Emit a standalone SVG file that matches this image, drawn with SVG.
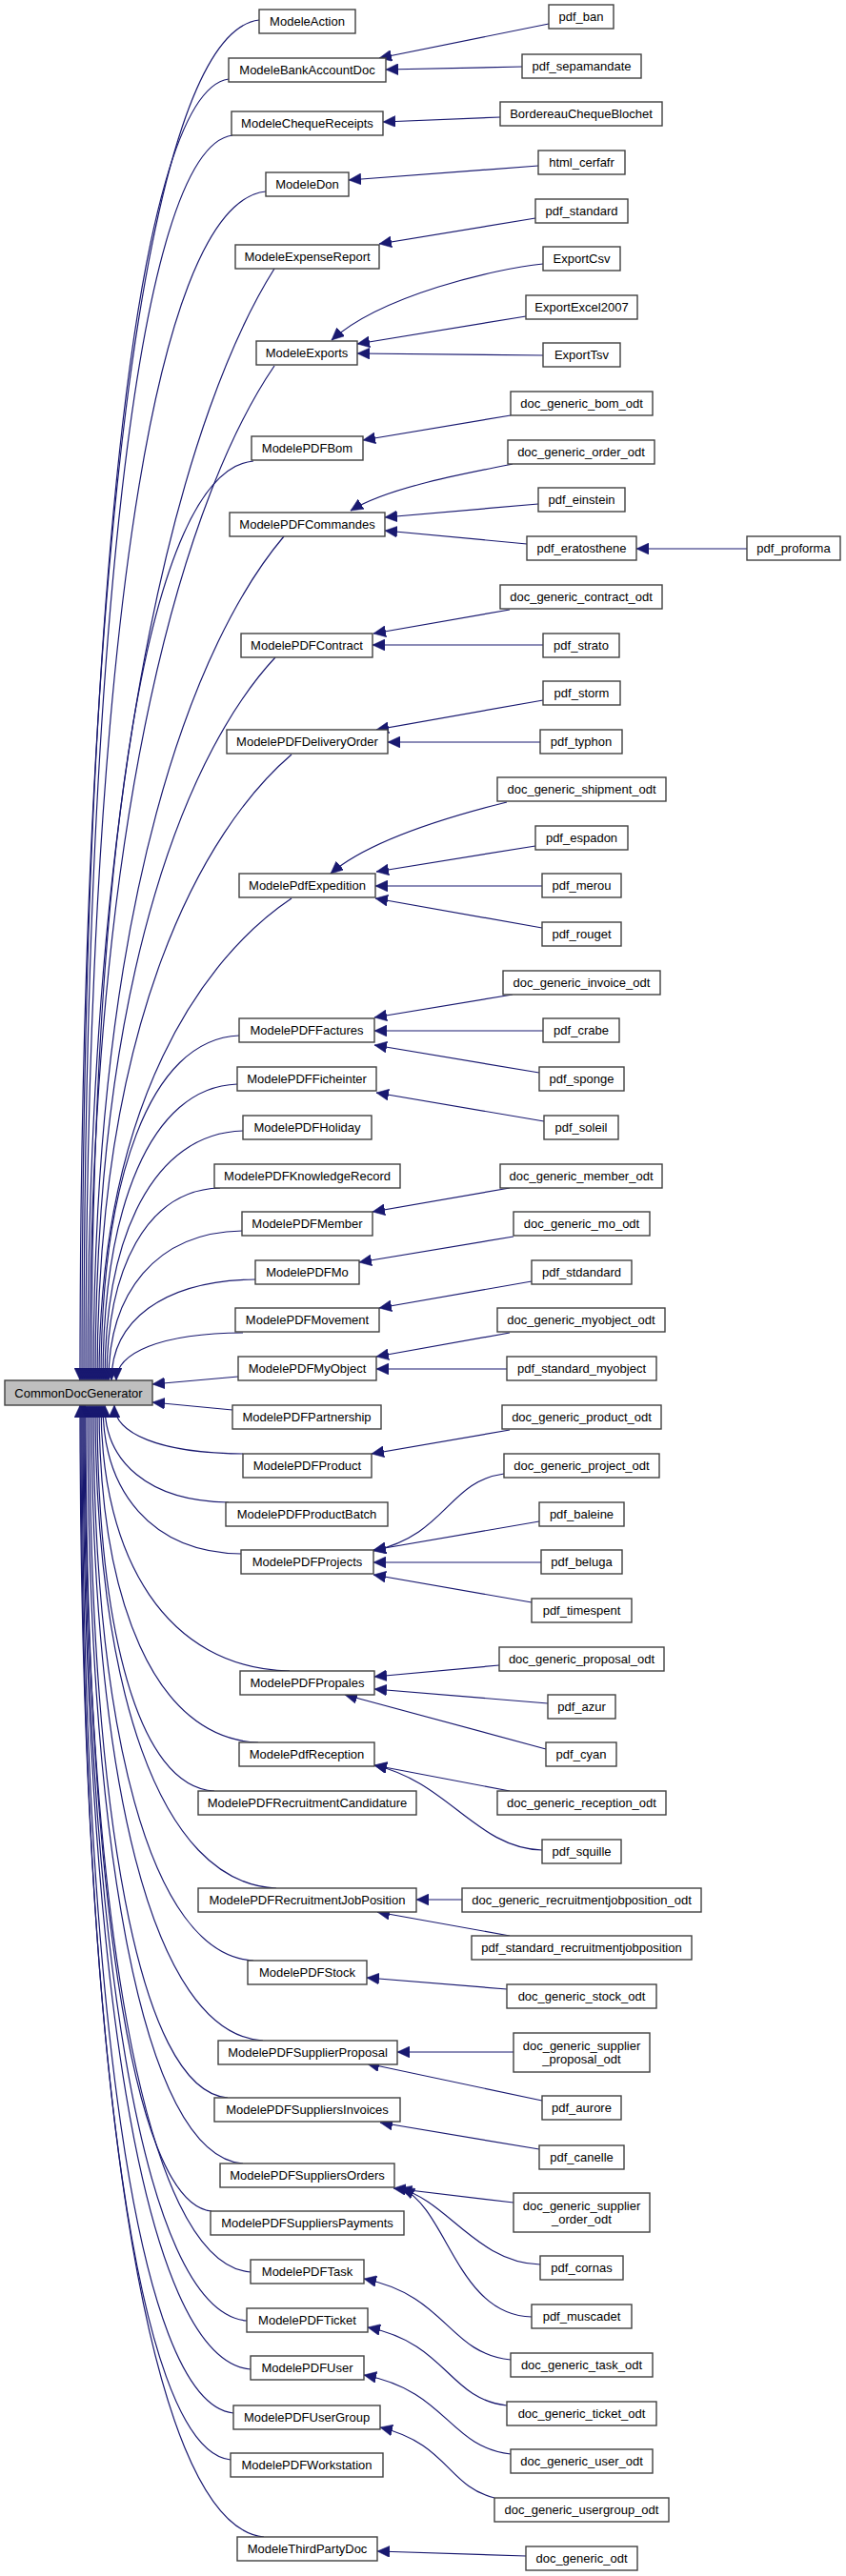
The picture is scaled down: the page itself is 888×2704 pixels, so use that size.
<svg xmlns="http://www.w3.org/2000/svg" width="888" height="2704" viewBox="0 0 888 2704">
<style>
.node rect{fill:#fff;stroke:#404040;stroke-width:1.4}
#n_CommonDocGenerator rect{fill:#bfbfbf}
.node text{font-family:"Liberation Sans",Arial,sans-serif;font-size:13px;text-anchor:middle;fill:#000}
.edges path{fill:none;stroke:#191970;stroke-width:1.2;marker-end:url(#arr)}
</style>
<defs>
<marker id="arr" markerUnits="userSpaceOnUse" markerWidth="14" markerHeight="12" refX="13" refY="6" orient="auto"><path d="M0,0 L13,6 L0,12 z" fill="#191970" stroke="#191970" stroke-width="0.5"/></marker>
</defs>
<rect width="888" height="2704" fill="#fff"/>
<g class="edges" id="connectors">
<path d="M272,21 C149.8,35.3 84,620.8 84,1449"/>
<path d="M240,83 C139.9,96.7 86,656.7 86,1449"/>
<path d="M244,142 C142.6,155.1 88,690.9 88,1449"/>
<path d="M279,201 C156.2,213.5 90,725.2 90,1449"/>
<path d="M288,282 C199.8,422 92,772.1 92,1449"/>
<path d="M288,384 C200.7,511.8 94,831.3 94,1449"/>
<path d="M266,484 C155.5,493.7 96,889.3 96,1449"/>
<path d="M298,563 C208,669.3 98,935.1 98,1449"/>
<path d="M289,690 C204,781 100,1008.8 100,1449"/>
<path d="M306,792 C214.2,870.8 102,1067.9 102,1449"/>
<path d="M306,943 C215.1,1003.7 104,1155.5 104,1449"/>
<path d="M251,1087 C156.8,1090.6 106,1239 106,1449"/>
<path d="M249,1138 C157.4,1141.1 108,1268.6 108,1449"/>
<path d="M255,1187 C160.8,1189.6 110,1297 110,1449"/>
<path d="M231,1247 C153.7,1249 112,1331.8 112,1449"/>
<path d="M254,1292 C163,1293.6 114,1357.9 114,1449"/>
<path d="M268,1343 C169.9,1344.1 117,1387.5 117,1449"/>
<path d="M255,1399 C168.6,1399.5 122,1420 122,1449"/>
<path d="M250,1445 L160,1453"/>
<path d="M244,1480 L160,1472"/>
<path d="M255,1526 C167.3,1525.5 120,1504.6 120,1475"/>
<path d="M240,1577 C155.5,1576 110,1534.2 110,1475"/>
<path d="M253,1631 C158.8,1629.4 108,1565.5 108,1475"/>
<path d="M304,1754 C175.3,1751.2 106,1636.8 106,1475"/>
<path d="M271,1829 C162.5,1825.5 104,1680.3 104,1475"/>
<path d="M225,1880 C145,1876 102,1709.9 102,1475"/>
<path d="M290,1982 C166.5,1976.9 100,1769.1 100,1475"/>
<path d="M266,2058 C156.8,2052.2 98,1813.1 98,1475"/>
<path d="M276,2142 C159,2135.3 96,1861.9 96,1475"/>
<path d="M239,2202 C144.8,2194.7 94,1896.7 94,1475"/>
<path d="M255,2271 C149.1,2263 92,1936.7 92,1475"/>
<path d="M222,2321 C136.2,2312.5 90,1965.7 90,1475"/>
<path d="M263,2385 C149.9,2375.9 89,2002.8 89,1475"/>
<path d="M259,2436 C147.9,2426.4 88,2032.4 88,1475"/>
<path d="M263,2487 C148.6,2476.9 87,2062 87,1475"/>
<path d="M245,2533 C141.7,2522.4 86,2088.6 86,1475"/>
<path d="M242,2582 C140,2570.9 85,2117.1 85,1475"/>
<path d="M277,2663 C151.5,2651.1 84,2164 84,1475"/>
<path d="M576,25 L398,61"/>
<path d="M548,70 L405,73"/>
<path d="M525,123 L402,128"/>
<path d="M565,174 L366,189"/>
<path d="M562,229 L398,256"/>
<path d="M570,277 C520,282 400,310 348,357"/>
<path d="M552,332 L375,361"/>
<path d="M570,373 L375,371"/>
<path d="M536,436 L381,462"/>
<path d="M538,487 C500,495 410,510 368,536"/>
<path d="M565,529 L404,543"/>
<path d="M553,571 L404,557"/>
<path d="M784,576 L668,576"/>
<path d="M535,640 L392,665"/>
<path d="M570,677 L391,677"/>
<path d="M570,735 L395,766"/>
<path d="M567,779 L407,779"/>
<path d="M532,842 C480,855 390,880 347,917"/>
<path d="M562,888 L395,915"/>
<path d="M569,930 L394,930"/>
<path d="M569,974 L394,943"/>
<path d="M538,1044 L393,1068"/>
<path d="M570,1082 L393,1082"/>
<path d="M566,1126 L393,1097"/>
<path d="M571,1177 L395,1147"/>
<path d="M535,1247 L391,1272"/>
<path d="M539,1298 L377,1325"/>
<path d="M558,1345 L398,1373"/>
<path d="M535,1399 L395,1424"/>
<path d="M532,1437 L395,1437"/>
<path d="M535,1501 L390,1526"/>
<path d="M529,1547 C470,1555 470,1610 392,1628"/>
<path d="M566,1597 L392,1627"/>
<path d="M568,1640 L392,1640"/>
<path d="M558,1682 L392,1653"/>
<path d="M524,1748 L393,1760"/>
<path d="M575,1788 L393,1773"/>
<path d="M573,1836 L362,1779"/>
<path d="M535,1880 L393,1853"/>
<path d="M569,1942 C500,1940 470,1870 393,1853"/>
<path d="M485,1994 L437,1994"/>
<path d="M535,2032 L396,2007"/>
<path d="M532,2088 L385,2076"/>
<path d="M539,2154 L417,2154"/>
<path d="M569,2205 L385,2166"/>
<path d="M566,2256 L399,2228"/>
<path d="M539,2312 L413,2297"/>
<path d="M567,2377 C500,2375 470,2310 419,2297"/>
<path d="M558,2432 C480,2430 470,2320 422,2297"/>
<path d="M536,2477 C470,2470 470,2410 382,2392"/>
<path d="M532,2525 C470,2518 470,2460 386,2443"/>
<path d="M536,2576 C470,2568 470,2510 382,2493"/>
<path d="M519,2622 C470,2610 470,2565 399,2548"/>
<path d="M552,2683 L396,2678"/>
</g>
<g id="n_CommonDocGenerator" class="node"><rect x="5" y="1449" width="155" height="26"/><text x="82.5" y="1466.5">CommonDocGenerator</text></g>
<g id="n_ModeleAction" class="node"><rect x="272" y="10" width="101" height="25"/><text x="322.5" y="27">ModeleAction</text></g>
<g id="n_ModeleBankAccountDoc" class="node"><rect x="240" y="61" width="165" height="25"/><text x="322.5" y="78">ModeleBankAccountDoc</text></g>
<g id="n_ModeleChequeReceipts" class="node"><rect x="243" y="117" width="159" height="25"/><text x="322.5" y="134">ModeleChequeReceipts</text></g>
<g id="n_ModeleDon" class="node"><rect x="279" y="181" width="87" height="25"/><text x="322.5" y="198">ModeleDon</text></g>
<g id="n_ModeleExpenseReport" class="node"><rect x="247" y="257" width="151" height="25"/><text x="322.5" y="274">ModeleExpenseReport</text></g>
<g id="n_ModeleExports" class="node"><rect x="269" y="358" width="106" height="25"/><text x="322" y="375">ModeleExports</text></g>
<g id="n_ModelePDFBom" class="node"><rect x="264" y="458" width="117" height="25"/><text x="322.5" y="475">ModelePDFBom</text></g>
<g id="n_ModelePDFCommandes" class="node"><rect x="241" y="538" width="163" height="25"/><text x="322.5" y="555">ModelePDFCommandes</text></g>
<g id="n_ModelePDFContract" class="node"><rect x="253" y="665" width="138" height="25"/><text x="322" y="682">ModelePDFContract</text></g>
<g id="n_ModelePDFDeliveryOrder" class="node"><rect x="238" y="766" width="169" height="25"/><text x="322.5" y="783">ModelePDFDeliveryOrder</text></g>
<g id="n_ModelePdfExpedition" class="node"><rect x="251" y="917" width="143" height="25"/><text x="322.5" y="934">ModelePdfExpedition</text></g>
<g id="n_ModelePDFFactures" class="node"><rect x="251" y="1069" width="142" height="25"/><text x="322" y="1086">ModelePDFFactures</text></g>
<g id="n_ModelePDFFicheinter" class="node"><rect x="249" y="1120" width="146" height="25"/><text x="322" y="1137">ModelePDFFicheinter</text></g>
<g id="n_ModelePDFHoliday" class="node"><rect x="255" y="1171" width="135" height="25"/><text x="322.5" y="1188">ModelePDFHoliday</text></g>
<g id="n_ModelePDFKnowledgeRecord" class="node"><rect x="225" y="1222" width="195" height="25"/><text x="322.5" y="1239">ModelePDFKnowledgeRecord</text></g>
<g id="n_ModelePDFMember" class="node"><rect x="254" y="1272" width="137" height="25"/><text x="322.5" y="1289">ModelePDFMember</text></g>
<g id="n_ModelePDFMo" class="node"><rect x="268" y="1323" width="109" height="25"/><text x="322.5" y="1340">ModelePDFMo</text></g>
<g id="n_ModelePDFMovement" class="node"><rect x="247" y="1373" width="151" height="25"/><text x="322.5" y="1390">ModelePDFMovement</text></g>
<g id="n_ModelePDFMyObject" class="node"><rect x="250" y="1424" width="145" height="25"/><text x="322.5" y="1441">ModelePDFMyObject</text></g>
<g id="n_ModelePDFPartnership" class="node"><rect x="244" y="1475" width="156" height="25"/><text x="322" y="1492">ModelePDFPartnership</text></g>
<g id="n_ModelePDFProduct" class="node"><rect x="255" y="1526" width="135" height="25"/><text x="322.5" y="1543">ModelePDFProduct</text></g>
<g id="n_ModelePDFProductBatch" class="node"><rect x="237" y="1577" width="170" height="25"/><text x="322" y="1594">ModelePDFProductBatch</text></g>
<g id="n_ModelePDFProjects" class="node"><rect x="253" y="1627" width="139" height="25"/><text x="322.5" y="1644">ModelePDFProjects</text></g>
<g id="n_ModelePDFPropales" class="node"><rect x="252" y="1754" width="141" height="25"/><text x="322.5" y="1771">ModelePDFPropales</text></g>
<g id="n_ModelePdfReception" class="node"><rect x="251" y="1829" width="142" height="25"/><text x="322" y="1846">ModelePdfReception</text></g>
<g id="n_ModelePDFRecruitmentCandidature" class="node"><rect x="208" y="1880" width="229" height="25"/><text x="322.5" y="1897">ModelePDFRecruitmentCandidature</text></g>
<g id="n_ModelePDFRecruitmentJobPosition" class="node"><rect x="208" y="1982" width="229" height="25"/><text x="322.5" y="1999">ModelePDFRecruitmentJobPosition</text></g>
<g id="n_ModelePDFStock" class="node"><rect x="260" y="2058" width="125" height="25"/><text x="322.5" y="2075">ModelePDFStock</text></g>
<g id="n_ModelePDFSupplierProposal" class="node"><rect x="229" y="2142" width="188" height="25"/><text x="323" y="2159">ModelePDFSupplierProposal</text></g>
<g id="n_ModelePDFSuppliersInvoices" class="node"><rect x="225" y="2202" width="195" height="25"/><text x="322.5" y="2219">ModelePDFSuppliersInvoices</text></g>
<g id="n_ModelePDFSuppliersOrders" class="node"><rect x="231" y="2271" width="183" height="25"/><text x="322.5" y="2288">ModelePDFSuppliersOrders</text></g>
<g id="n_ModelePDFSuppliersPayments" class="node"><rect x="221" y="2321" width="203" height="25"/><text x="322.5" y="2338">ModelePDFSuppliersPayments</text></g>
<g id="n_ModelePDFTask" class="node"><rect x="263" y="2372" width="119" height="25"/><text x="322.5" y="2389">ModelePDFTask</text></g>
<g id="n_ModelePDFTicket" class="node"><rect x="259" y="2423" width="127" height="25"/><text x="322.5" y="2440">ModelePDFTicket</text></g>
<g id="n_ModelePDFUser" class="node"><rect x="263" y="2473" width="119" height="25"/><text x="322.5" y="2490">ModelePDFUser</text></g>
<g id="n_ModelePDFUserGroup" class="node"><rect x="245" y="2525" width="154" height="25"/><text x="322" y="2542">ModelePDFUserGroup</text></g>
<g id="n_ModelePDFWorkstation" class="node"><rect x="242" y="2575" width="160" height="25"/><text x="322" y="2592">ModelePDFWorkstation</text></g>
<g id="n_ModeleThirdPartyDoc" class="node"><rect x="249" y="2663" width="147" height="25"/><text x="322.5" y="2680">ModeleThirdPartyDoc</text></g>
<g id="n_pdf_ban" class="node"><rect x="576" y="5" width="68" height="25"/><text x="610" y="22">pdf_ban</text></g>
<g id="n_pdf_sepamandate" class="node"><rect x="548" y="57" width="125" height="25"/><text x="610.5" y="74">pdf_sepamandate</text></g>
<g id="n_BordereauChequeBlochet" class="node"><rect x="525" y="107" width="170" height="25"/><text x="610" y="124">BordereauChequeBlochet</text></g>
<g id="n_html_cerfafr" class="node"><rect x="565" y="158" width="91" height="25"/><text x="610.5" y="175">html_cerfafr</text></g>
<g id="n_pdf_standard" class="node"><rect x="562" y="209" width="97" height="25"/><text x="610.5" y="226">pdf_standard</text></g>
<g id="n_ExportCsv" class="node"><rect x="570" y="259" width="81" height="25"/><text x="610.5" y="276">ExportCsv</text></g>
<g id="n_ExportExcel2007" class="node"><rect x="552" y="310" width="117" height="25"/><text x="610.5" y="327">ExportExcel2007</text></g>
<g id="n_ExportTsv" class="node"><rect x="570" y="360" width="81" height="25"/><text x="610.5" y="377">ExportTsv</text></g>
<g id="n_doc_generic_bom_odt" class="node"><rect x="536" y="411" width="149" height="25"/><text x="610.5" y="428">doc_generic_bom_odt</text></g>
<g id="n_doc_generic_order_odt" class="node"><rect x="533" y="462" width="154" height="25"/><text x="610" y="479">doc_generic_order_odt</text></g>
<g id="n_pdf_einstein" class="node"><rect x="565" y="512" width="91" height="25"/><text x="610.5" y="529">pdf_einstein</text></g>
<g id="n_pdf_eratosthene" class="node"><rect x="553" y="563" width="115" height="25"/><text x="610.5" y="580">pdf_eratosthene</text></g>
<g id="n_pdf_proforma" class="node"><rect x="784" y="563" width="98" height="25"/><text x="833" y="580">pdf_proforma</text></g>
<g id="n_doc_generic_contract_odt" class="node"><rect x="525" y="614" width="170" height="25"/><text x="610" y="631">doc_generic_contract_odt</text></g>
<g id="n_pdf_strato" class="node"><rect x="570" y="665" width="80" height="25"/><text x="610" y="682">pdf_strato</text></g>
<g id="n_pdf_storm" class="node"><rect x="570" y="715" width="81" height="25"/><text x="610.5" y="732">pdf_storm</text></g>
<g id="n_pdf_typhon" class="node"><rect x="567" y="766" width="86" height="25"/><text x="610" y="783">pdf_typhon</text></g>
<g id="n_doc_generic_shipment_odt" class="node"><rect x="522" y="816" width="177" height="25"/><text x="610.5" y="833">doc_generic_shipment_odt</text></g>
<g id="n_pdf_espadon" class="node"><rect x="562" y="867" width="97" height="25"/><text x="610.5" y="884">pdf_espadon</text></g>
<g id="n_pdf_merou" class="node"><rect x="569" y="917" width="83" height="25"/><text x="610.5" y="934">pdf_merou</text></g>
<g id="n_pdf_rouget" class="node"><rect x="569" y="968" width="83" height="25"/><text x="610.5" y="985">pdf_rouget</text></g>
<g id="n_doc_generic_invoice_odt" class="node"><rect x="528" y="1019" width="165" height="25"/><text x="610.5" y="1036">doc_generic_invoice_odt</text></g>
<g id="n_pdf_crabe" class="node"><rect x="570" y="1069" width="80" height="25"/><text x="610" y="1086">pdf_crabe</text></g>
<g id="n_pdf_sponge" class="node"><rect x="566" y="1120" width="89" height="25"/><text x="610.5" y="1137">pdf_sponge</text></g>
<g id="n_pdf_soleil" class="node"><rect x="571" y="1171" width="78" height="25"/><text x="610" y="1188">pdf_soleil</text></g>
<g id="n_doc_generic_member_odt" class="node"><rect x="525" y="1222" width="170" height="25"/><text x="610" y="1239">doc_generic_member_odt</text></g>
<g id="n_doc_generic_mo_odt" class="node"><rect x="539" y="1272" width="143" height="25"/><text x="610.5" y="1289">doc_generic_mo_odt</text></g>
<g id="n_pdf_stdandard" class="node"><rect x="558" y="1323" width="105" height="25"/><text x="610.5" y="1340">pdf_stdandard</text></g>
<g id="n_doc_generic_myobject_odt" class="node"><rect x="522" y="1373" width="176" height="25"/><text x="610" y="1390">doc_generic_myobject_odt</text></g>
<g id="n_pdf_standard_myobject" class="node"><rect x="532" y="1424" width="157" height="25"/><text x="610.5" y="1441">pdf_standard_myobject</text></g>
<g id="n_doc_generic_product_odt" class="node"><rect x="527" y="1475" width="167" height="25"/><text x="610.5" y="1492">doc_generic_product_odt</text></g>
<g id="n_doc_generic_project_odt" class="node"><rect x="529" y="1526" width="163" height="25"/><text x="610.5" y="1543">doc_generic_project_odt</text></g>
<g id="n_pdf_baleine" class="node"><rect x="566" y="1577" width="89" height="25"/><text x="610.5" y="1594">pdf_baleine</text></g>
<g id="n_pdf_beluga" class="node"><rect x="568" y="1627" width="85" height="25"/><text x="610.5" y="1644">pdf_beluga</text></g>
<g id="n_pdf_timespent" class="node"><rect x="558" y="1678" width="105" height="25"/><text x="610.5" y="1695">pdf_timespent</text></g>
<g id="n_doc_generic_proposal_odt" class="node"><rect x="524" y="1729" width="173" height="25"/><text x="610.5" y="1746">doc_generic_proposal_odt</text></g>
<g id="n_pdf_azur" class="node"><rect x="575" y="1779" width="71" height="25"/><text x="610.5" y="1796">pdf_azur</text></g>
<g id="n_pdf_cyan" class="node"><rect x="573" y="1829" width="74" height="25"/><text x="610" y="1846">pdf_cyan</text></g>
<g id="n_doc_generic_reception_odt" class="node"><rect x="522" y="1880" width="177" height="25"/><text x="610.5" y="1897">doc_generic_reception_odt</text></g>
<g id="n_pdf_squille" class="node"><rect x="569" y="1931" width="83" height="25"/><text x="610.5" y="1948">pdf_squille</text></g>
<g id="n_doc_generic_recruitmentjobposition_odt" class="node"><rect x="485" y="1982" width="251" height="25"/><text x="610.5" y="1999">doc_generic_recruitmentjobposition_odt</text></g>
<g id="n_pdf_standard_recruitmentjobposition" class="node"><rect x="495" y="2032" width="231" height="25"/><text x="610.5" y="2049">pdf_standard_recruitmentjobposition</text></g>
<g id="n_doc_generic_stock_odt" class="node"><rect x="532" y="2083" width="157" height="25"/><text x="610.5" y="2100">doc_generic_stock_odt</text></g>
<g id="n_doc_generic_supplier_proposal_odt" class="node"><rect x="539" y="2134" width="143" height="41"/><text x="610.5" y="2152">doc_generic_supplier</text><text x="610.5" y="2166">_proposal_odt</text></g>
<g id="n_pdf_aurore" class="node"><rect x="569" y="2200" width="83" height="25"/><text x="610.5" y="2217">pdf_aurore</text></g>
<g id="n_pdf_canelle" class="node"><rect x="566" y="2252" width="89" height="25"/><text x="610.5" y="2269">pdf_canelle</text></g>
<g id="n_doc_generic_supplier_order_odt" class="node"><rect x="539" y="2302" width="143" height="41"/><text x="610.5" y="2320">doc_generic_supplier</text><text x="610.5" y="2334">_order_odt</text></g>
<g id="n_pdf_cornas" class="node"><rect x="567" y="2368" width="87" height="25"/><text x="610.5" y="2385">pdf_cornas</text></g>
<g id="n_pdf_muscadet" class="node"><rect x="558" y="2419" width="105" height="25"/><text x="610.5" y="2436">pdf_muscadet</text></g>
<g id="n_doc_generic_task_odt" class="node"><rect x="536" y="2470" width="149" height="25"/><text x="610.5" y="2487">doc_generic_task_odt</text></g>
<g id="n_doc_generic_ticket_odt" class="node"><rect x="532" y="2521" width="157" height="25"/><text x="610.5" y="2538">doc_generic_ticket_odt</text></g>
<g id="n_doc_generic_user_odt" class="node"><rect x="536" y="2571" width="149" height="25"/><text x="610.5" y="2588">doc_generic_user_odt</text></g>
<g id="n_doc_generic_usergroup_odt" class="node"><rect x="519" y="2622" width="183" height="25"/><text x="610.5" y="2639">doc_generic_usergroup_odt</text></g>
<g id="n_doc_generic_odt" class="node"><rect x="552" y="2673" width="117" height="25"/><text x="610.5" y="2690">doc_generic_odt</text></g>
</svg>
